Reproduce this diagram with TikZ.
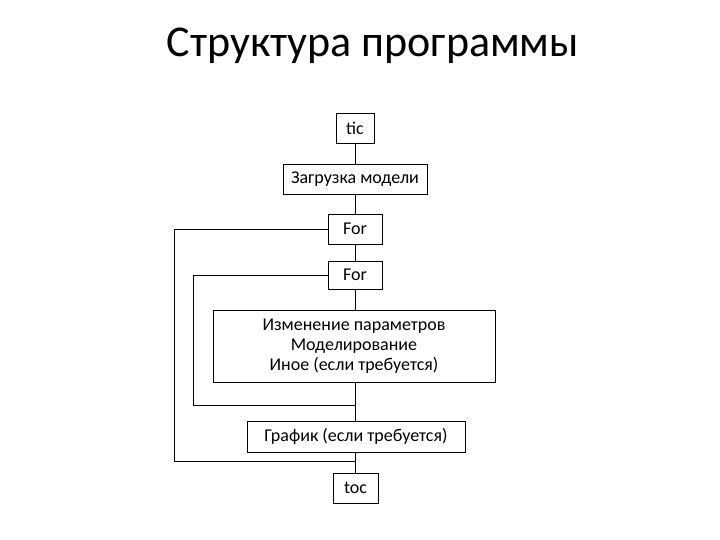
\documentclass[tikz,border=0pt]{standalone}
\usepackage{fontspec}
\setmainfont{Carlito}
\begin{document}
\begin{tikzpicture}[x=1pt,y=-1pt,
  bx/.style={draw,line width=0.8pt,inner sep=0pt,font=\fontsize{18}{20}\selectfont,align=center},
  ln/.style={line width=0.8pt}]
\useasboundingbox (0,0) rectangle (720,540);
\node[font=\fontsize{44}{50}\selectfont] (title) at (373,46) {Структура программы};
\node[bx,minimum width=38,minimum height=30] (tic) at (355,128) {tic};
\node[bx,minimum width=144,minimum height=30] (load) at (355,179) {Загрузка модели};
\node[bx,minimum width=54,minimum height=30] (for1) at (355,229) {For};
\node[bx,minimum width=54,minimum height=28] (for2) at (355,275) {For};
\node[bx,minimum width=282,minimum height=72] (body) at (354,346) {Изменение параметров\\Моделирование\\Иное (если требуется)};
\node[bx,minimum width=218,minimum height=31] (plot) at (356,436.5) {График (если требуется)};
\node[bx,minimum width=45,minimum height=30] (toc) at (355.5,488) {toc};
\coordinate (j1) at (355,405);
\coordinate (j2) at (355,461);
\draw[ln] (tic) -- (load);
\draw[ln] (load) -- (for1);
\draw[ln] (for1) -- (for2);
\draw[ln] (for2) -- (body.north -| for2);
\draw[ln] (body.south -| j1) -- (plot.north -| j1);
\draw[ln] (plot.south -| j2) -- (toc.north -| j2);
\draw[ln] (for1.west) -- (174,229) -- (174,461) -- (j2);
\draw[ln] (for2.west) -- (193,275) -- (193,405) -- (j1);
\end{tikzpicture}
\end{document}
